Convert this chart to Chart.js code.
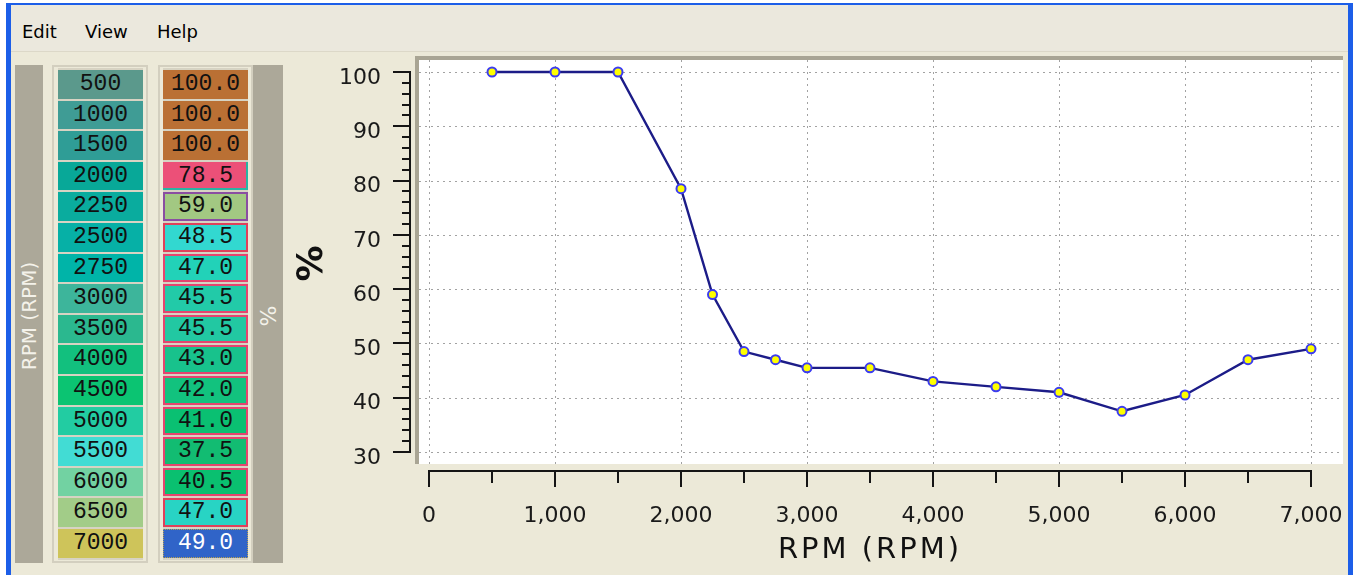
<!DOCTYPE html>
<html>
<head>
<meta charset="utf-8">
<script src="https://cdn.jsdelivr.net/npm/chart.js@4.4.0/dist/chart.umd.min.js"></script>
<style>
html, body { margin:0; padding:0; width:1353px; height:575px; overflow:hidden; background:#fff; font-family:"DejaVu Sans", sans-serif; }
.abs { position:absolute; }
#win { left:6px; top:3px; width:1347px; height:572px; box-sizing:border-box; background:#ece9d8;
	border-left:5px solid #1c5ee8; border-top:2px solid #1c5ee8; border-right:5px solid #1c5ee8; }
#menu { left:11px; top:5px; width:1337px; height:46px; background:#ebe8dd; border-bottom:1px solid #dcd8c8; }
.menu-item { top:22px; font-size:18px; line-height:20px; color:#000; }
.bar { background:#aca899; top:65px; height:498px; }
.vlabel { color:#f4f2ea; white-space:nowrap; transform:translate(-50%,-50%) rotate(-90deg); }
.frame { top:65px; height:498px; box-sizing:border-box; border:2px solid #d3cfbf; background:#ece9d8; }
.col { top:68px; width:85px; padding:2px 0; background:#d7d3c3; display:flex; flex-direction:column; gap:2px; }
.cell { height:28.6px; box-sizing:border-box; font-family:"Liberation Mono", monospace; font-size:23px;
	line-height:28.6px; text-align:center; color:#111; }
#chart { left:290px; top:52px; }
</style>
</head>
<body>
<div id="win" class="abs"></div>
<div id="menu" class="abs"></div>
<div class="abs menu-item" style="left:22px">Edit</div>
<div class="abs menu-item" style="left:85px">View</div>
<div class="abs menu-item" style="left:157px">Help</div>

<div class="abs bar" style="left:15px;width:28px"></div>
<div class="abs vlabel" style="left:29px;top:316px;font-size:20px">RPM (RPM)</div>
<div class="abs frame" style="left:52px;width:96px"></div>
<div id="rpmCol" class="abs col" style="left:58px"></div>
<div class="abs frame" style="left:158px;width:95px"></div>
<div id="pctCol" class="abs col" style="left:163px"></div>
<div class="abs bar" style="left:253px;width:30px"></div>
<div class="abs vlabel" style="left:268px;top:316px;font-size:22px">%</div>

<canvas id="chart" class="abs" width="1063" height="523"></canvas>

<script>
// table / series data
const rpm = [500, 1000, 1500, 2000, 2250, 2500, 2750, 3000, 3500, 4000, 4500, 5000, 5500, 6000, 6500, 7000];
const pct = [100, 100, 100, 78.5, 59, 48.5, 47, 45.5, 45.5, 43, 42, 41, 37.5, 40.5, 47, 49];
const xTickValues = [0, 1000, 2000, 3000, 4000, 5000, 6000, 7000];
const yTickValues = [30, 40, 50, 60, 70, 80, 90, 100];

// cell styling (heat colours of the table)
const rpmColors = ['#5b998c','#3f9c95','#2f9d96','#08a898','#0aac9e','#06b0a6','#00b4a8','#3db59b',
	'#2bb88f','#12c07e','#0bc472','#22cca2','#42dcd4','#72d2a2','#a2cc88','#cec45a'];
const pctColors = ['#ba7034','#ba7034','#ba7034','#ec5078','#a2c882','#32d8d0','#22d2b8','#22caa8',
	'#22c8a2','#18c28c','#12c27e','#0ac072','#12bc72','#0ac070','#28d4c4','#3064c8'];
const pctOutline = ['','','','inset -2px -2px 0 #2ab4a4','inset 0 0 0 2px #8a4ea2','inset 0 0 0 2px #e0405a',
	'inset 0 0 0 2px #e6446e','inset 0 0 0 2px #e6446e','inset 0 0 0 2px #e6446e','inset 0 0 0 2px #e6446e',
	'inset 0 0 0 2px #e6446e','inset 0 0 0 2px #e6446e','inset 0 0 0 2px #e6446e','inset 0 0 0 2px #e6446e',
	'inset 0 0 0 2px #e0405a',''];

function fillColumn(id, texts, colors, outlines) {
	const col = document.getElementById(id);
	texts.forEach((t, i) => {
		const c = document.createElement('div');
		c.className = 'cell';
		c.textContent = t;
		c.style.background = colors[i];
		if (outlines && outlines[i]) c.style.boxShadow = outlines[i];
		col.appendChild(c);
	});
	return col;
}

fillColumn('rpmCol', rpm.map(String), rpmColors);
const pctCol = fillColumn('pctCol', pct.map(v => v.toFixed(1)), pctColors, pctOutline);
const sel = pctCol.lastChild;
sel.style.color = '#fff';
sel.style.outline = '1px dotted #b8a050';
sel.style.outlineOffset = '-1px';

// white plot panel, dotted grid and the detached axes
const plotFrame = {
	id: 'plotFrame',
	beforeDraw(chart) {
		const { ctx, chartArea: a, scales: { x, y } } = chart;
		const L = a.left - 10, T = a.top - 12, R = a.right + 32, B = a.bottom + 12;
		ctx.save();
		ctx.fillStyle = '#a9a594';
		ctx.fillRect(L - 4, T - 4, R - L + 4, 4);
		ctx.fillRect(L - 4, T - 4, 4, B - T + 4);
		ctx.fillStyle = '#fff';
		ctx.fillRect(L, T, R - L, B - T);
		ctx.strokeStyle = '#a2a2a2';
		ctx.lineWidth = 1;
		ctx.setLineDash([2, 4]);
		x.ticks.forEach(t => {
			const px = Math.round(x.getPixelForValue(t.value)) + 0.5;
			line(ctx, px, T, px, B);
		});
		y.ticks.forEach(t => {
			const py = Math.round(y.getPixelForValue(t.value)) + 0.5;
			line(ctx, L, py, R - 3, py);
		});
		ctx.restore();
		ctx.letterSpacing = '3px'; // wide axis title lettering
	},
	beforeDatasetsDraw(chart) {
		chart.ctx.letterSpacing = '0px';
	},
	afterDraw(chart) {
		const { ctx, chartArea: a, scales: { x, y } } = chart;
		ctx.save();
		ctx.strokeStyle = '#151515';
		ctx.lineWidth = 2;
		const ax = a.left - 19;
		line(ctx, ax, Math.round(y.getPixelForValue(100)) - 1, ax, Math.round(y.getPixelForValue(30)) + 1);
		for (let v = 30; v <= 100; v += 2) {
			const py = Math.round(y.getPixelForValue(v));
			line(ctx, ax - (v % 10 === 0 ? 17 : 8), py, ax, py);
		}
		const ay = a.bottom + 19;
		line(ctx, Math.round(x.getPixelForValue(0)) - 1, ay, Math.round(x.getPixelForValue(7000)) + 1, ay);
		for (let v = 0; v <= 7000; v += 500) {
			const px = Math.round(x.getPixelForValue(v));
			line(ctx, px, ay, px, ay + (v % 1000 === 0 ? 16 : 12));
		}
		ctx.restore();
	}
};

function line(ctx, x1, y1, x2, y2) {
	ctx.beginPath();
	ctx.moveTo(x1, y1);
	ctx.lineTo(x2, y2);
	ctx.stroke();
}

new Chart(document.getElementById('chart'), {
	type: 'line',
	data: {
		datasets: [{
			data: rpm.map((r, i) => ({ x: r, y: pct[i] })),
			borderColor: '#1c1c88',
			borderWidth: 2.4,
			pointRadius: 4.5,
			pointBackgroundColor: '#ffff00',
			pointBorderColor: '#3c3cf0',
			pointBorderWidth: 2,
			tension: 0,
			clip: false
		}]
	},
	options: {
		responsive: false,
		animation: false,
		devicePixelRatio: 1,
		layout: { padding: { left: 5, right: 42, top: 20, bottom: 0 } },
		plugins: { legend: { display: false }, tooltip: { enabled: false } },
		scales: {
			x: {
				type: 'linear', min: 0, max: 7000,
				afterBuildTicks: s => { s.ticks = xTickValues.map(v => ({ value: v })); },
				afterFit: s => { s.height = 123; s.paddingLeft = 0; s.paddingRight = 0; },
				grid: { display: false, drawTicks: false },
				border: { display: false },
				ticks: { padding: 51, color: '#1a1a1a', font: { family: 'DejaVu Sans', size: 22 },
					maxRotation: 0, autoSkip: false, z: 1, callback: v => v.toLocaleString('en-US') },
				title: { display: true, text: 'RPM (RPM)', color: '#111',
					font: { family: 'DejaVu Sans', size: 29, lineHeight: 1.2 }, padding: { top: 0, bottom: 7 } }
			},
			y: {
				type: 'linear', min: 30, max: 100,
				afterBuildTicks: s => { s.ticks = yTickValues.map(v => ({ value: v })); },
				afterFit: s => { s.width = 134; s.paddingTop = 0; s.paddingBottom = 0; },
				grid: { display: false, drawTicks: false },
				border: { display: false },
				ticks: { padding: 48, labelOffset: 6, color: '#1a1a1a', font: { family: 'DejaVu Sans', size: 22 }, z: 1 },
				title: { display: true, text: '%', color: '#111',
					font: { family: 'DejaVu Sans', size: 36, weight: 'bold', lineHeight: 1 }, padding: 0 }
			}
		}
	},
	plugins: [plotFrame]
});
</script>
</body>
</html>
